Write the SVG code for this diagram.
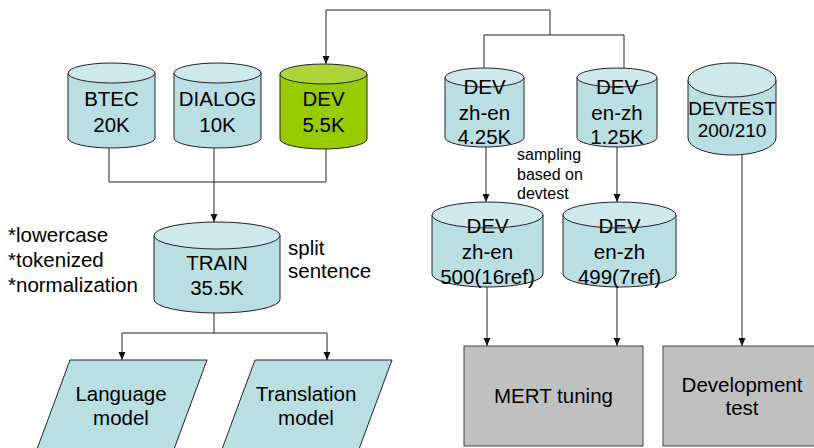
<svg xmlns="http://www.w3.org/2000/svg" width="814" height="448" viewBox="0 0 814 448">
<defs>
<marker id="arr" viewBox="0 0 8 8" refX="8" refY="4" markerWidth="8" markerHeight="8" markerUnits="userSpaceOnUse" orient="auto">
<path d="M0,0.5 L8,4 L0,7.5 Z" fill="#111"/>
</marker>
</defs>
<style>
text{font-family:"Liberation Sans",Arial,sans-serif;fill:#000}
.t{font-size:20.5px;text-anchor:middle}
.l{font-size:20.5px}
.s{font-size:16px}
.body{fill:#B9DFE3;stroke:#222;stroke-width:1}
.top{fill:#CDE9EC;stroke:#222;stroke-width:1}
.gbody{fill:#99CC00;stroke:#222;stroke-width:1}
.gtop{fill:#ADD53A;stroke:#222;stroke-width:1}
.box{fill:#C0C0C0;stroke:#444;stroke-width:1}
.para{fill:#B9DFE3;stroke:#222;stroke-width:1}
.c{fill:none;stroke:#222;stroke-width:1}
.a{fill:none;stroke:#222;stroke-width:1;marker-end:url(#arr)}
</style>
<rect width="814" height="448" fill="#fff"/>

<g id="connectors">
<path class="c" d="M109,148 V182 M214,148 V182 M326,149 V182 M109,182 H326"/>
<path class="a" d="M214,182 V222"/>
<path class="a" d="M550,35 V10 H326 V64"/>
<path class="c" d="M484,35 H624 M484,35 V68 M624,35 V68"/>
<path class="a" d="M486,147 V202"/>
<path class="a" d="M617,147 V202"/>
<path class="a" d="M487,287 V346"/>
<path class="a" d="M617,287 V346"/>
<path class="a" d="M742,155 V346"/>
<path class="c" d="M214,313 V333 M122,333 H327"/>
<path class="a" d="M122,333 V360"/>
<path class="a" d="M327,333 V360"/>
</g>

<g id="btec">
<path class="body" d="M68,73 V138 A43.5,10 0 0 0 155,138 V73 Z"/>
<ellipse class="top" cx="111.5" cy="73" rx="43.5" ry="10"/>
<text class="t" x="111.5" y="106">BTEC</text>
<text class="t" x="111.5" y="132">20K</text>
</g>

<g id="dialog">
<path class="body" d="M174,73 V138 A43.5,10 0 0 0 261,138 V73 Z"/>
<ellipse class="top" cx="217.5" cy="73" rx="43.5" ry="10"/>
<text class="t" x="217.5" y="106">DIALOG</text>
<text class="t" x="217.5" y="132">10K</text>
</g>

<g id="dev">
<path class="gbody" d="M280,74 V139 A43.5,10 0 0 0 367,139 V74 Z"/>
<ellipse class="gtop" cx="323.5" cy="74" rx="43.5" ry="10"/>
<text class="t" x="323.5" y="106">DEV</text>
<text class="t" x="323.5" y="132">5.5K</text>
</g>

<g id="dev-zh-en">
<path class="body" d="M445,77.5 V137.5 A39.5,9.5 0 0 0 524,137.5 V77.5 Z"/>
<ellipse class="top" cx="484.5" cy="77.5" rx="39.5" ry="9.5"/>
<text class="t" x="484.5" y="94">DEV</text>
<text class="t" x="484.5" y="120">zh-en</text>
<text class="t" x="484.5" y="144">4.25K</text>
</g>

<g id="dev-en-zh">
<path class="body" d="M577,77.5 V137.5 A40,9.5 0 0 0 657,137.5 V77.5 Z"/>
<ellipse class="top" cx="617" cy="77.5" rx="40" ry="9.5"/>
<text class="t" x="617" y="94">DEV</text>
<text class="t" x="617" y="120">en-zh</text>
<text class="t" x="617" y="144">1.25K</text>
</g>

<g id="devtest">
<path class="body" d="M688,80 V138 A44,17 0 0 0 776,138 V80 Z"/>
<ellipse class="top" cx="732" cy="80" rx="44" ry="17"/>
<text class="t" x="732" y="115" style="font-size:19px">DEVTEST</text>
<text class="t" x="732" y="137" style="font-size:19px">200/210</text>
</g>

<g id="sampling-note">
<text class="s" x="517" y="160">sampling</text>
<text class="s" x="517" y="180">based on</text>
<text class="s" x="517" y="199">devtest</text>
</g>

<g id="train">
<path class="body" d="M154,235.5 V299.5 A63,13.5 0 0 0 280,299.5 V235.5 Z"/>
<ellipse class="top" cx="217" cy="235.5" rx="63" ry="13.5"/>
<text class="t" x="217" y="270">TRAIN</text>
<text class="t" x="217" y="295">35.5K</text>
</g>

<g id="preprocess-note">
<text class="l" x="8" y="242">*lowercase</text>
<text class="l" x="8" y="267">*tokenized</text>
<text class="l" x="8" y="292">*normalization</text>
</g>

<g id="split-note">
<text class="l" x="288" y="255">split</text>
<text class="l" x="288" y="278">sentence</text>
</g>

<g id="dev-zh-en-500">
<path class="body" d="M432,215 V274 A55.5,13 0 0 0 543,274 V215 Z"/>
<ellipse class="top" cx="487.5" cy="215" rx="55.5" ry="13"/>
<text class="t" x="487.5" y="233">DEV</text>
<text class="t" x="487.5" y="259">zh-en</text>
<text class="t" x="487.5" y="284">500(16ref)</text>
</g>

<g id="dev-en-zh-499">
<path class="body" d="M563,215 V274 A56.5,13 0 0 0 676,274 V215 Z"/>
<ellipse class="top" cx="619.5" cy="215" rx="56.5" ry="13"/>
<text class="t" x="619.5" y="233">DEV</text>
<text class="t" x="619.5" y="259">en-zh</text>
<text class="t" x="619.5" y="284">499(7ref)</text>
</g>

<g id="language-model">
<polygon class="para" points="70,360 207,360 170,460 33,460"/>
<text class="t" x="121" y="401">Language</text>
<text class="t" x="121" y="425">model</text>
</g>

<g id="translation-model">
<polygon class="para" points="255,360 392,360 355,460 218,460"/>
<text class="t" x="306" y="401">Translation</text>
<text class="t" x="306" y="425">model</text>
</g>

<g id="mert">
<rect class="box" x="464" y="346" width="179" height="100"/>
<text class="t" x="553.5" y="403">MERT tuning</text>
</g>

<g id="devtest-box">
<rect class="box" x="663" y="346" width="160" height="100"/>
<text class="t" x="742" y="392">Development</text>
<text class="t" x="742" y="415">test</text>
</g>
</svg>
